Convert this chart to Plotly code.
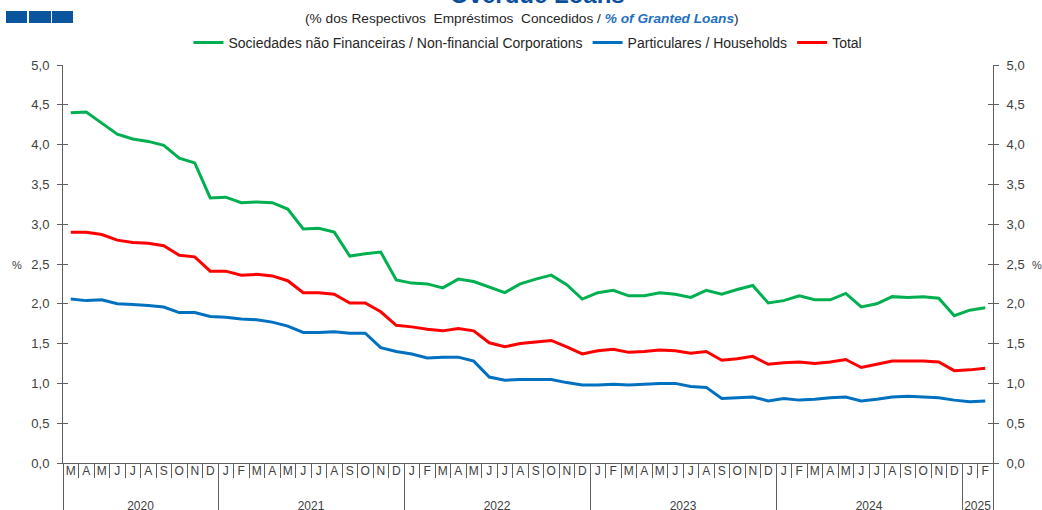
import plotly.graph_objects as go

# ---------------- data ----------------
years_span = ["2020"] * 10 + ["2021"] * 12 + ["2022"] * 12 + ["2023"] * 12 + ["2024"] * 12 + ["2025"] * 2
month_letters = ["J", "F", "M", "A", "M", "J", "J", "A", "S", "O", "N", "D"]
start_month_index = 2  # March 2020

nfc = [4.40, 4.41, 4.27, 4.13, 4.07, 4.04, 3.99, 3.83, 3.77, 3.33,
       3.34, 3.27, 3.28, 3.27, 3.19, 2.94, 2.95, 2.90, 2.60, 2.63, 2.65, 2.30,
       2.26, 2.25, 2.20, 2.31, 2.28, 2.21, 2.14, 2.25, 2.31, 2.36, 2.24, 2.06,
       2.14, 2.17, 2.10, 2.10, 2.14, 2.12, 2.08, 2.17, 2.12, 2.18, 2.23, 2.01,
       2.04, 2.10, 2.05, 2.05, 2.13, 1.96, 2.00, 2.09, 2.08, 2.09, 2.07, 1.85,
       1.92, 1.95]
households = [2.06, 2.04, 2.05, 2.00, 1.99, 1.98, 1.96, 1.89, 1.89, 1.84,
              1.83, 1.81, 1.80, 1.77, 1.72, 1.64, 1.64, 1.65, 1.63, 1.63, 1.45, 1.40,
              1.37, 1.32, 1.33, 1.33, 1.28, 1.08, 1.04, 1.05, 1.05, 1.05, 1.01, 0.98,
              0.98, 0.99, 0.98, 0.99, 1.00, 1.00, 0.96, 0.95, 0.81, 0.82, 0.83, 0.78,
              0.81, 0.79, 0.80, 0.82, 0.83, 0.78, 0.80, 0.83, 0.84, 0.83, 0.82, 0.79,
              0.77, 0.78]
total = [2.90, 2.90, 2.87, 2.80, 2.77, 2.76, 2.73, 2.61, 2.59, 2.41,
         2.41, 2.36, 2.37, 2.35, 2.29, 2.14, 2.14, 2.12, 2.01, 2.01, 1.90, 1.73,
         1.71, 1.68, 1.66, 1.69, 1.66, 1.51, 1.46, 1.50, 1.52, 1.54, 1.46, 1.37,
         1.41, 1.43, 1.39, 1.40, 1.42, 1.41, 1.38, 1.40, 1.29, 1.31, 1.34, 1.24,
         1.26, 1.27, 1.25, 1.27, 1.30, 1.20, 1.24, 1.28, 1.28, 1.28, 1.27, 1.16,
         1.17, 1.19]

series_names = ["Sociedades não Financeiras / Non-financial Corporations",
                "Particulares / Households", "Total"]
series_colors = ["#00B050", "#0070C0", "#FF0000"]

# ---------------- build x ----------------
# Each inner label gets a unique count of zero-width spaces so that the
# multicategory axis keeps chronological order (letters repeat: J, M, A).
n = len(years_span)
months_span = [month_letters[(start_month_index + i) % 12] + "\u200b" * i for i in range(n)]
# leading line break pushes the year row lower, as in the reference
x = [["<br>" + y for y in years_span], months_span]

W, H = 1042, 510
L, R, T, B = 63, 49, 65, 47
pw, ph = W - L - R, H - T - B


def px_x(p):
    return (p - L) / pw


def px_y(p):
    return (H - B - p) / ph


fig = go.Figure()
for vals, name, col in zip([nfc, households, total], series_names, series_colors):
    fig.add_trace(go.Scatter(x=x, y=vals, mode="lines", name=name,
                             line=dict(color=col, width=3)))

# invisible helper traces so the overlaid axes (right axis, cross ticks) are drawn
for ya in ["y2", "y3", "y4"]:
    fig.add_trace(go.Scatter(x=x, y=total, yaxis=ya, mode="lines", showlegend=False,
                             hoverinfo="skip", line=dict(width=0, color="rgba(0,0,0,0)")))

axis_col = "#5F5F5F"
txt_col = "#404040"
font = "Liberation Sans, Arial, sans-serif"

yax_common = dict(range=[0, 5], dtick=0.5, tick0=0, tickformat=".1f",
                  showgrid=False, zeroline=False, showline=True,
                  linecolor=axis_col, linewidth=1, tickcolor=axis_col,
                  tickwidth=1, ticklen=5, fixedrange=True,
                  tickfont=dict(family=font, size=13, color=txt_col))

fig.update_layout(
    width=W, height=H,
    margin=dict(l=L, r=R, t=T, b=B, autoexpand=False),
    paper_bgcolor="white", plot_bgcolor="white",
    separators=", ",
    font=dict(family=font, size=12, color=txt_col),
    showlegend=True,
    legend=dict(orientation="h", x=0.5, xanchor="center", y=px_y(43), yanchor="middle",
                font=dict(family=font, size=14, color="#262626"),
                bgcolor="rgba(0,0,0,0)", itemwidth=30, tracegroupgap=0),
    xaxis=dict(type="multicategory", range=[-0.5, n - 0.5], showgrid=False,
               showline=True, linecolor=axis_col, linewidth=1,
               ticks="outside", tickson="boundaries", ticklen=14, tickcolor=axis_col,
               showdividers=True, dividercolor=axis_col, dividerwidth=1,
               tickangle=0, ticklabelstandoff=-3,
               tickfont=dict(family=font, size=12, color=txt_col),
               fixedrange=True, automargin=False),
    yaxis=dict(side="left", ticks="outside", **yax_common),
    yaxis3=dict(side="left", overlaying="y", anchor="x", ticks="inside",
                showticklabels=False, **yax_common),
    yaxis2=dict(side="right", overlaying="y", anchor="x", ticks="outside", **yax_common),
    yaxis4=dict(side="right", overlaying="y", anchor="x", ticks="inside",
                showticklabels=False, **yax_common),
)
fig.update_yaxes(ticklabelstandoff=5, selector=dict(side="left"))
fig.update_yaxes(ticklabelstandoff=5, selector=dict(side="right"))

annotations = [
    dict(text="<b>Overdue Loans</b>", x=px_x(537), y=px_y(10), xref="paper", yref="paper",
         xanchor="center", yanchor="bottom", showarrow=False,
         font=dict(family=font, size=24, color="#0B4F9C")),
    dict(text="(% dos Respectivos\u00a0 Empréstimos\u00a0 Concedidos / "
              "<span style='color:#1F6FC0'><b><i>% of Granted Loans</i></b></span>)",
         x=px_x(522), y=px_y(18), xref="paper", yref="paper",
         xanchor="center", yanchor="middle", showarrow=False,
         font=dict(family=font, size=13.7, color="#262626")),
    dict(text="%", x=px_x(17), y=px_y(265), xref="paper", yref="paper",
         xanchor="center", yanchor="middle", showarrow=False,
         font=dict(family=font, size=11, color=txt_col)),
    dict(text="%", x=px_x(1037), y=px_y(265), xref="paper", yref="paper",
         xanchor="center", yanchor="middle", showarrow=False,
         font=dict(family=font, size=11, color=txt_col)),
]
fig.update_layout(annotations=annotations)

shapes = []
for x0, x1 in [(6, 27), (29, 51), (52, 73)]:
    shapes.append(dict(type="rect", xref="paper", yref="paper",
                       x0=px_x(x0), x1=px_x(x1), y0=px_y(23), y1=px_y(11),
                       fillcolor="#0B559F", line=dict(width=0)))
fig.update_layout(shapes=shapes)

fig.write_html("out.html", config={"displayModeBar": False},
               post_script="document.body.style.margin='0';document.body.style.overflow='hidden';")
